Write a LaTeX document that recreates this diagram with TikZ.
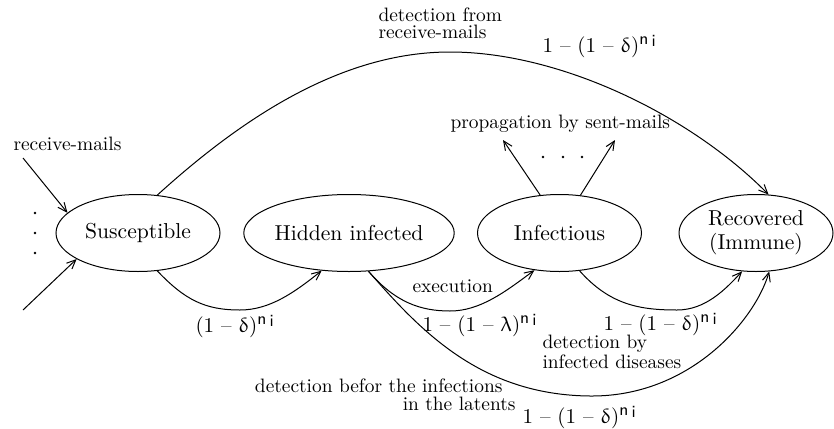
\documentclass[tikz,border=0pt]{standalone}
\usepackage{upgreek}
\usetikzlibrary{shapes.geometric,arrows.meta}
\newcommand{\nsup}{\raisebox{3.6pt}{\fontfamily{lmss}\fontsize{8.5}{9}\selectfont n\kern1.6pt\raisebox{-0.8pt}{i}}}
\newcommand{\dsh}{\textendash}
\begin{document}
\begin{tikzpicture}[x=0.5pt,y=-0.5pt,line width=0.5pt,
  st/.style={ellipse,draw,inner sep=0pt,minimum width=82pt,minimum height=38.5pt,align=center,font=\fontsize{10.8}{12}\selectfont},
  lbl/.style={inner sep=0pt,font=\fontsize{9.7}{12}\selectfont,anchor=base west},
  prob/.style={inner sep=0pt,font=\fontsize{10.5}{12}\selectfont,anchor=base west},
  arr/.style={-{Straight Barb[length=4.5pt,width=4pt]}},
  dotmark/.style={circle,fill,inner sep=0pt,minimum size=1.3pt}]
\useasboundingbox (0,0) rectangle (834,428);

% states
\node[st] (S) at (138,233) {Susceptible};
\node[st] (H) at (349,233) {Hidden infected};
\node[st] (I) at (559.5,233) {Infectious};
\node[st,minimum width=77pt] (R) at (756,233) {Recovered\\(Immune)};

% incoming receive-mails
\coordinate (in1) at (23,158);
\coordinate (in2) at (23,310);
\draw[arr] (in1) -- (S.164);
\draw[arr] (in2) -- (S.-157);
\node[dotmark] (v1) at (35,213) {};
\node[dotmark] (v2) at (35,233) {};
\node[dotmark] (v3) at (35,253) {};
\node[lbl] (lrm) at (13,150) {receive-mails};

% top arc S -> R
\draw[arr] (S.63) .. controls (240,120) and (340,52) .. (450,52)
  .. controls (560,52) and (690,115) .. (R.72);
\node[lbl] (ldf1) at (378,21) {detection from};
\node[lbl] (ldf2) at (378,39) {receive-mails};
\node[prob] (p1) at (542,52) {1 \dsh{} (1 \dsh{} $\updelta$)\nsup};

% S -> H
\draw[arr] (S.-63) .. controls (185,300) and (205,310) .. (240,310)
  .. controls (270,310) and (295,292) .. (H.-126);
\node[prob] (p2) at (195,332) {(1 \dsh{} $\updelta$)\nsup};

% H -> I
\draw[arr] (H.-63) .. controls (395,302) and (420,311) .. (450,311)
  .. controls (480,311) and (505,292) .. (I.-124);
\node[lbl] (lex) at (412,292) {execution};
\node[prob] (p3) at (422,331) {1 \dsh{} (1 \dsh{} $\uplambda$)\nsup};

% I -> R
\draw[arr] (I.-62) .. controls (610,305) and (640,310) .. (677,310)
  .. controls (705,310) and (725,290) .. (R.-110);
\node[prob] (p4) at (603,330) {1 \dsh{} (1 \dsh{} $\updelta$)\nsup};
\node[lbl] (ldb1) at (542,348) {detection by};
\node[lbl] (ldb2) at (542,368) {infected diseases};

% H -> R (long bottom)
\draw[arr] (H.-63) .. controls (420,330) and (480,395) .. (590,396)
  .. controls (690,397) and (755,320) .. (R.-71);
\node[lbl,anchor=base east] (ldl1) at (503,392) {detection befor the infections};
\node[lbl,anchor=base east] (ldl2) at (516,410) {in the latents};
\node[prob] (p5) at (522,423) {1 \dsh{} (1 \dsh{} $\updelta$)\nsup};

% propagation
\coordinate (o1) at (503,140);
\coordinate (o2) at (615,140);
\draw[arr] (I.117) -- (o1);
\draw[arr] (I.61) -- (o2);
\node[dotmark] (h1) at (543,157) {};
\node[dotmark] (h2) at (563,157) {};
\node[dotmark] (h3) at (582,157) {};
\node[lbl] (lps) at (450,128) {propagation by sent-mails};
\end{tikzpicture}
\end{document}
